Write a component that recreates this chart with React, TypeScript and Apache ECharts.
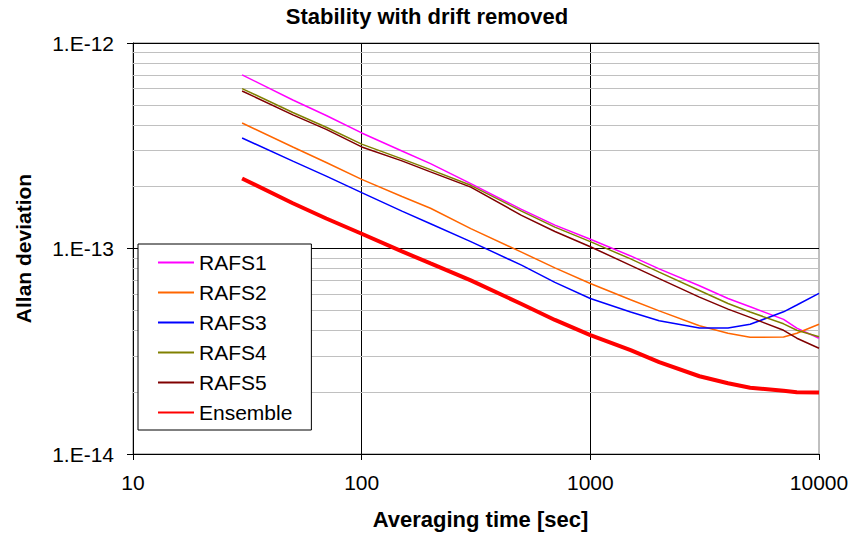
import React, { useEffect, useRef } from "react";
import * as echarts from "echarts";

const FONT = '"Liberation Sans", Arial, sans-serif';

const taus = [30, 50, 70, 100, 150, 200, 300, 500, 700, 1000, 1500, 2000, 3000, 4000, 5000, 7000, 8000, 10000];

const rafs1 = [7.0e-13, 5.28e-13, 4.44e-13, 3.65e-13, 2.98e-13, 2.59e-13, 2.07e-13, 1.55e-13, 1.3e-13, 1.11e-13, 9.2e-14, 7.96e-14, 6.59e-14, 5.71e-14, 5.21e-14, 4.52e-14, 4.1e-14, 3.66e-14];
const rafs2 = [4.08e-13, 3.12e-13, 2.62e-13, 2.17e-13, 1.79e-13, 1.57e-13, 1.25e-13, 9.6e-14, 8.05e-14, 6.76e-14, 5.63e-14, 4.97e-14, 4.21e-14, 3.87e-14, 3.7e-14, 3.71e-14, 3.87e-14, 4.28e-14];
const rafs3 = [3.45e-13, 2.66e-13, 2.25e-13, 1.87e-13, 1.52e-13, 1.32e-13, 1.08e-13, 8.3e-14, 6.84e-14, 5.71e-14, 4.91e-14, 4.45e-14, 4.1e-14, 4.1e-14, 4.28e-14, 4.92e-14, 5.31e-14, 6.05e-14];
const rafs4 = [6.0e-13, 4.59e-13, 3.89e-13, 3.22e-13, 2.73e-13, 2.42e-13, 2.03e-13, 1.52e-13, 1.27e-13, 1.08e-13, 8.9e-14, 7.67e-14, 6.25e-14, 5.4e-14, 4.91e-14, 4.3e-14, 4.0e-14, 3.72e-14];
const rafs5 = [5.84e-13, 4.47e-13, 3.8e-13, 3.12e-13, 2.67e-13, 2.36e-13, 1.99e-13, 1.45e-13, 1.21e-13, 1.02e-13, 8.28e-14, 7.13e-14, 5.8e-14, 5.07e-14, 4.62e-14, 4.0e-14, 3.66e-14, 3.27e-14];
const ensemble = [2.19e-13, 1.66e-13, 1.4e-13, 1.18e-13, 9.68e-14, 8.46e-14, 7.0e-14, 5.37e-14, 4.49e-14, 3.79e-14, 3.2e-14, 2.8e-14, 2.39e-14, 2.21e-14, 2.1e-14, 2.03e-14, 2.0e-14, 1.99e-14];

const seriesNames = ["RAFS1", "RAFS2", "RAFS3", "RAFS4", "RAFS5", "Ensemble"];
const seriesValues = [rafs1, rafs2, rafs3, rafs4, rafs5, ensemble];
const seriesColors = ["#ff00ff", "#ff6600", "#0000ff", "#808000", "#800000", "#ff0000"];
const seriesWidths = [1.5, 1.5, 1.5, 1.5, 1.5, 4];

const xMin = 10;
const xMax = 10000;
const yMin = 1e-14;
const yMax = 1e-12;

const minorGridValues = [
  2e-14, 3e-14, 4e-14, 5e-14, 6e-14, 7e-14, 8e-14, 9e-14,
  2e-13, 3e-13, 4e-13, 5e-13, 6e-13, 7e-13, 8e-13, 9e-13,
];

const titleText = "Stability with drift removed";
const xName = "Averaging time [sec]";
const yName = "Allan deviation";

function fmtY(v: number): string {
  const e = Math.round(Math.log10(v));
  const s = e < 0 ? "-" : "+";
  const a = Math.abs(e);
  return "1.E" + s + (a < 10 ? "0" + a : String(a));
}

export default function App() {
  const ref = useRef<HTMLDivElement>(null);
  useEffect(() => {
    if (!ref.current) return;
    const chart = echarts.init(ref.current, undefined, { renderer: "svg" });
    const series: any[] = seriesNames.map((name, i) => {
      const s: any = {
        name,
        type: "line",
        data: taus.map((t, j) => [t, seriesValues[i][j]]),
        symbol: "none",
        showSymbol: false,
        smooth: false,
        lineStyle: { color: seriesColors[i], width: seriesWidths[i] },
        itemStyle: { color: seriesColors[i] },
        z: 3,
      };
      if (i === 0) {
        s.markLine = {
          z: 1,
          silent: true,
          symbol: "none",
          animation: false,
          label: { show: false },
          lineStyle: { color: "#c0c0c0", width: 1, type: "solid" },
          emphasis: { disabled: true },
          data: minorGridValues.map((v) => [{ coord: [xMin, v] }, { coord: [xMax, v] }]),
        };
      }
      return s;
    });
    chart.setOption({
      animation: false,
      backgroundColor: "#ffffff",
      textStyle: { fontFamily: FONT },
      title: {
        text: titleText,
        left: "center",
        top: 5,
        padding: 0,
        textStyle: { fontFamily: FONT, fontSize: 22, fontWeight: "bold", color: "#000" },
      },
      grid: {
        left: 133,
        right: 35,
        top: 43,
        bottom: 81,
        show: true,
        borderColor: "#808080",
        borderWidth: 1,
        backgroundColor: "transparent",
      },
      legend: {
        data: seriesNames,
        orient: "vertical",
        left: 138,
        top: 244,
        padding: [8, 19, 7, 19],
        itemGap: 9,
        itemWidth: 36,
        itemHeight: 14,
        backgroundColor: "#ffffff",
        borderColor: "#000000",
        borderWidth: 1,
        borderRadius: 0,
        itemStyle: { opacity: 0, borderWidth: 0 },
        textStyle: { fontFamily: FONT, fontSize: 21, color: "#000" },
        z: 10,
      },
      xAxis: {
        type: "log",
        logBase: 10,
        min: xMin,
        max: xMax,
        name: xName,
        nameLocation: "middle",
        nameGap: 54,
        nameTextStyle: { fontFamily: FONT, fontSize: 22, fontWeight: "bold", color: "#000", padding: [0, 0, 0, 9] },
        axisLine: { show: true, lineStyle: { color: "#000", width: 1 } },
        axisTick: { show: true, inside: false, length: 6, lineStyle: { color: "#000" } },
        axisLabel: {
          fontFamily: FONT,
          fontSize: 21,
          color: "#000",
          margin: 18,
          formatter: (v: number) => String(Math.round(v)),
        },
        splitLine: { show: true, showMinLine: false, showMaxLine: false, lineStyle: { color: "#000", width: 1 } },
        minorTick: { show: false },
      },
      yAxis: {
        type: "log",
        logBase: 10,
        min: yMin,
        max: yMax,
        name: yName,
        nameLocation: "middle",
        nameGap: 99,
        nameRotate: 90,
        nameTextStyle: { fontFamily: FONT, fontSize: 21, fontWeight: "bold", color: "#000" },
        axisLine: { show: true, lineStyle: { color: "#000", width: 1 } },
        axisTick: { show: true, inside: false, length: 6, lineStyle: { color: "#000" } },
        axisLabel: {
          fontFamily: FONT,
          fontSize: 21,
          color: "#000",
          margin: 19,
          formatter: (v: number) => fmtY(v),
        },
        splitLine: { show: true, showMinLine: false, showMaxLine: false, lineStyle: { color: "#000", width: 1 } },
      },
      series,
    });
    return () => chart.dispose();
  }, []);
  return (
    <div
      ref={ref}
      style={{ position: "absolute", left: 0, top: 0, width: 854, height: 535 }}
    />
  );
}
